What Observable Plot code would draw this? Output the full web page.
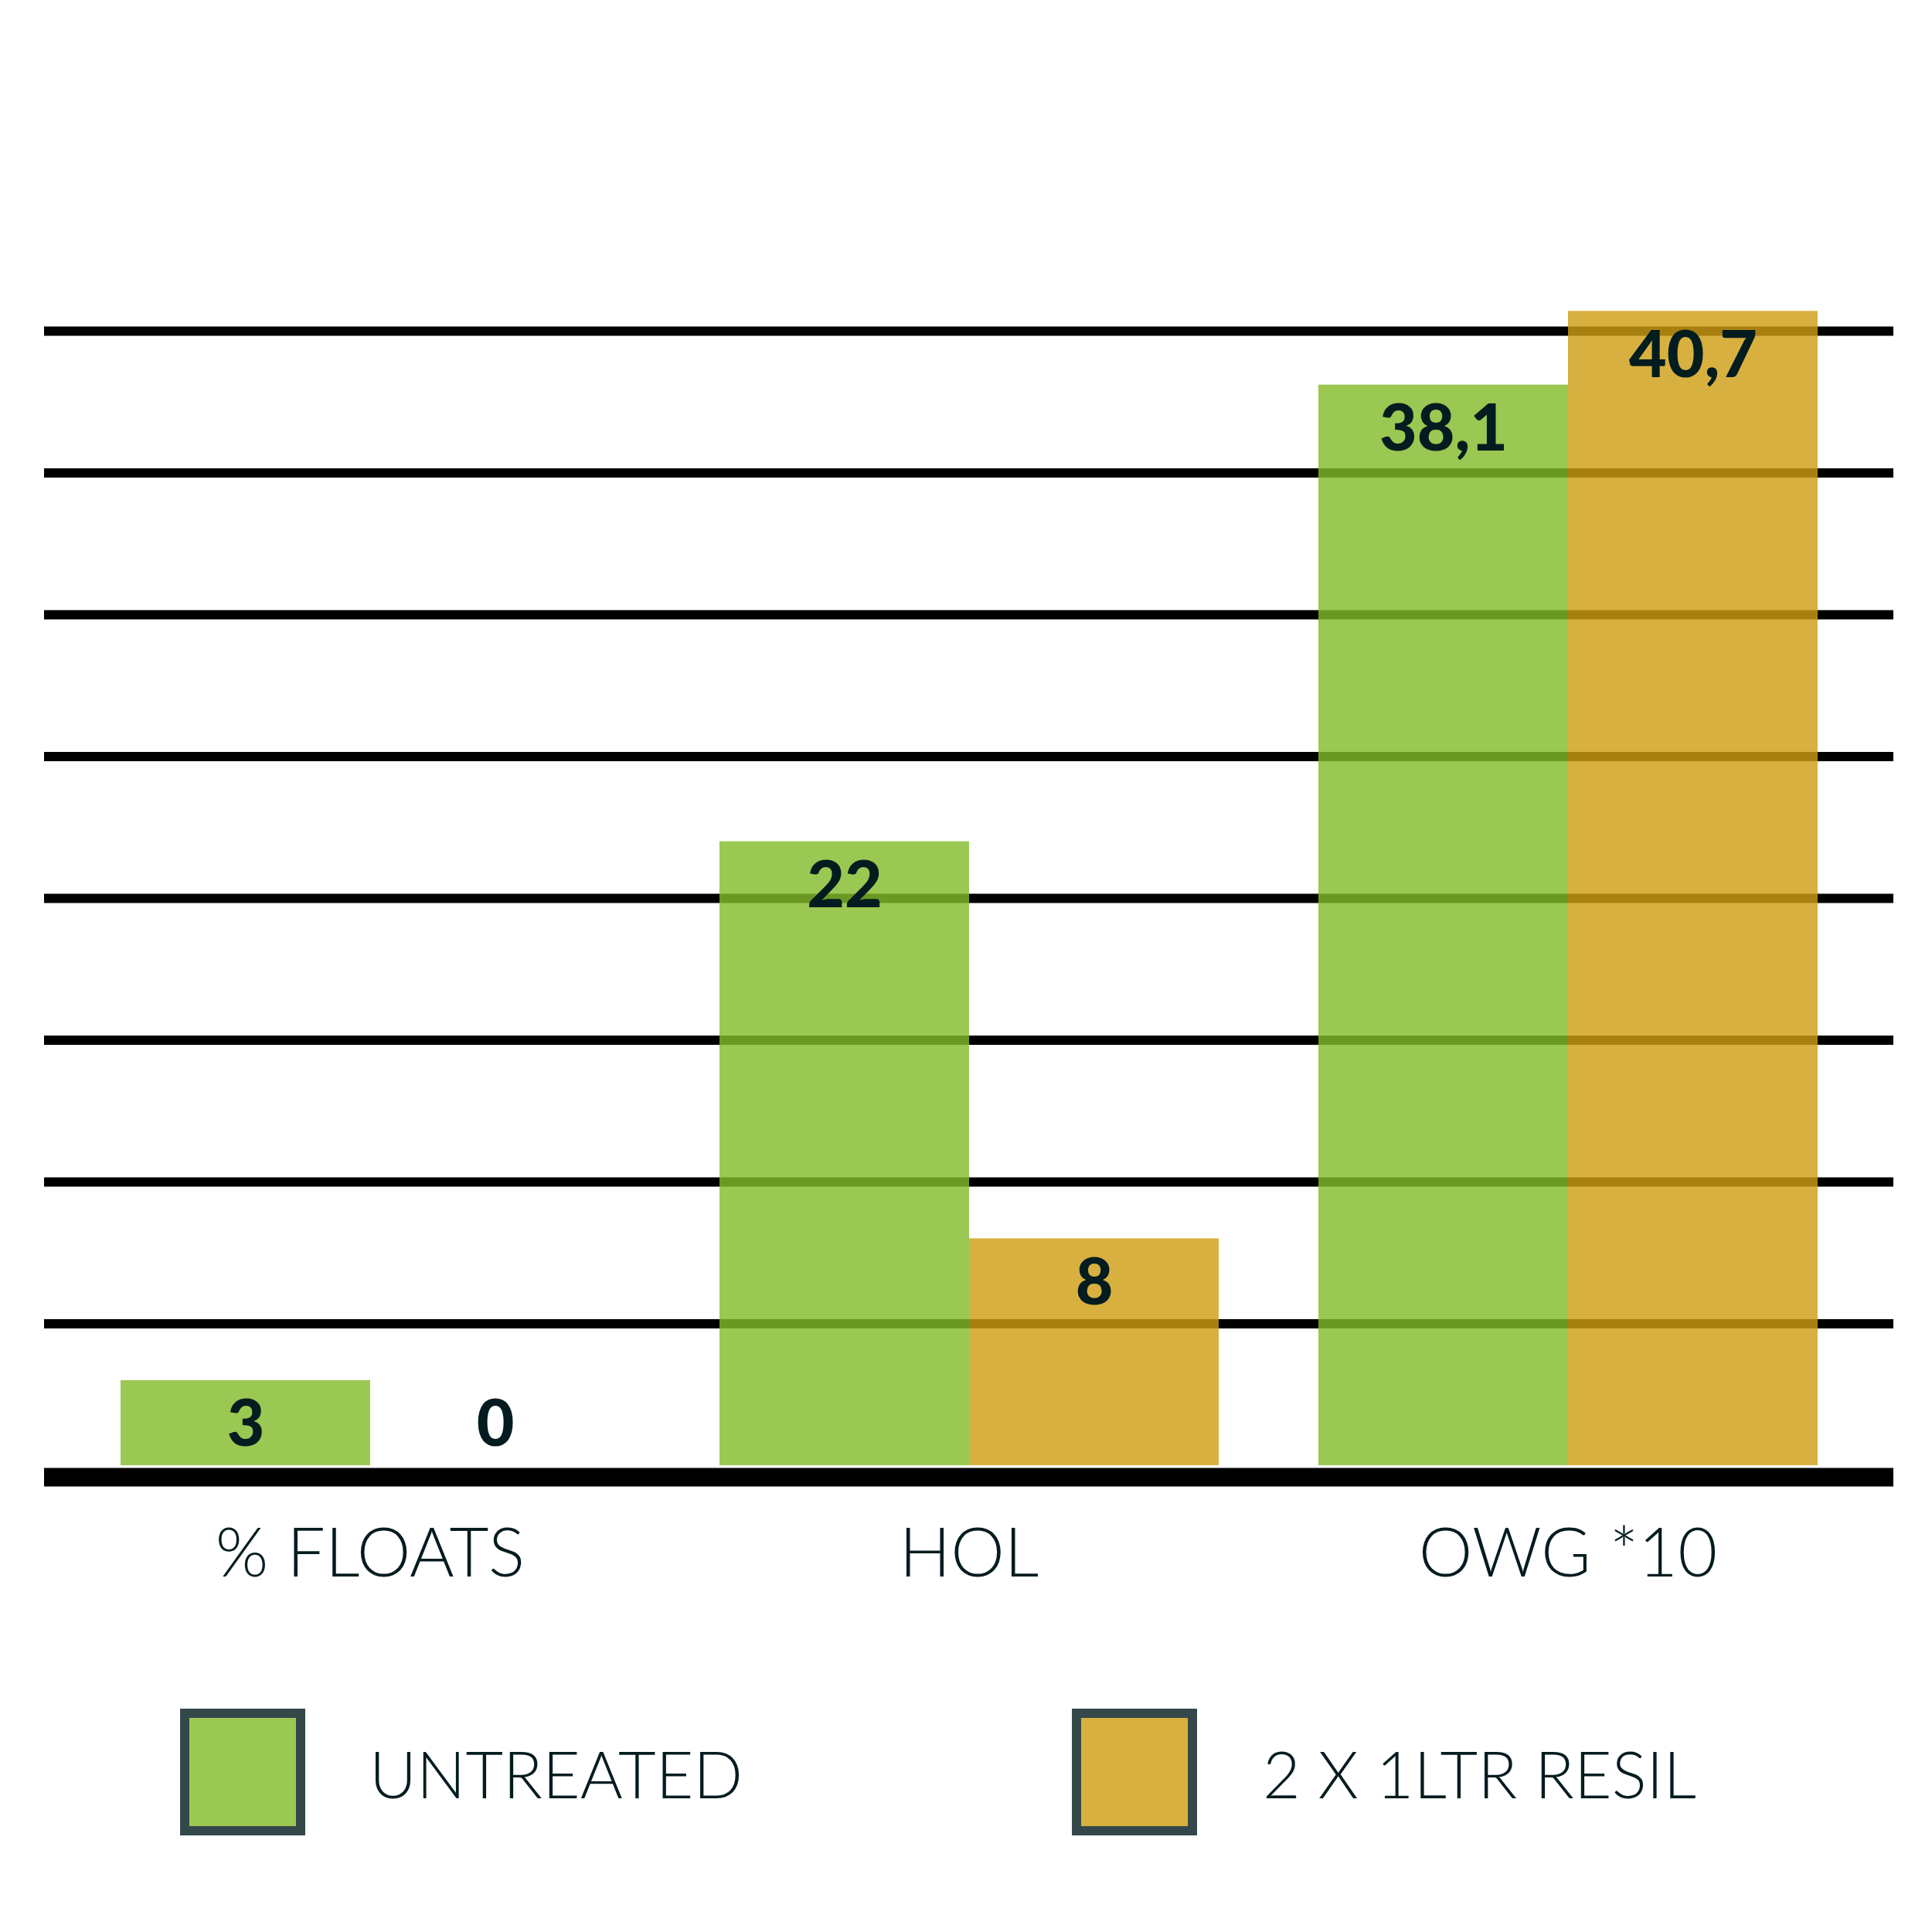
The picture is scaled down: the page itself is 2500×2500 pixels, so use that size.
<!DOCTYPE html>
<html>
<head>
<meta charset="utf-8">
<script src="https://cdn.jsdelivr.net/npm/d3@7"></script>
<script src="https://cdn.jsdelivr.net/npm/@observablehq/plot@0.6"></script>
<style>
  html, body { margin: 0; padding: 0; background: #ffffff; }
  #wrap { position: relative; width: 2500px; height: 2500px; background: #fff; }
  #grid, #chart { position: absolute; left: 0; top: 0; width: 2500px; height: 2100px; }
  #legend { position: absolute; left: 0; top: 2100px; width: 2500px; height: 400px; font-family: Lato, "Open Sans", sans-serif; }
  .sw { position: absolute; top: 111px; width: 138px; height: 140px; border: 12px solid #354849; box-sizing: content-box; }
  .lt { position: absolute; top: 140px; font-size: 84px; font-weight: 300; color: #031c1f; line-height: 110px; }
</style>
</head>
<body>
<div id="wrap">
  <div id="grid"></div>
  <div id="chart"></div>
  <div id="legend"></div>
</div>
<script>
const categories = ["% FLOATS", "HOL", "OWG *10"];
const series = ["UNTREATED", "2 X 1LTR RESIL"];
const untreated = [3, 22, 38.1];
const resil = [0, 8, 40.7];
const gridTicks = [5, 10, 15, 20, 25, 30, 35, 40];
const colors = ["#82bb2a", "#cf9e12"];

const rows = [];
categories.forEach((c, i) => {
  rows.push({category: c, series: series[0], value: untreated[i]});
  rows.push({category: c, series: series[1], value: resil[i]});
});
const fmt = v => String(v).replace(".", ",");

const common = {
  width: 2500,
  height: 2100,
  marginLeft: 57,
  marginRight: 50,
  marginTop: 244.5,
  marginBottom: 204,
  y: {domain: [0, 45], axis: null}
};

// Background layer: full-width grid lines and baseline
const grid = Plot.plot({
  ...common,
  style: {background: "transparent"},
  marks: [
    Plot.ruleY(gridTicks, {stroke: "#000", strokeWidth: 12}),
    Plot.ruleY([0], {stroke: "#000", strokeWidth: 24, dy: 15})
  ]
});
document.getElementById("grid").appendChild(grid);

// Foreground layer: grouped bars, value labels and category labels
const chart = Plot.plot({
  ...common,
  style: {fontFamily: "Lato, 'Open Sans', sans-serif", color: "#031c1f", background: "transparent"},
  fx: {domain: categories, paddingInner: 0.165, paddingOuter: 0.126, label: null, axis: null},
  x: {domain: series, padding: 0, axis: null},
  color: {domain: series, range: colors},
  marks: [
    Plot.barY(rows, {fx: "category", x: "series", y: "value", fill: "series", fillOpacity: 0.81}),
    Plot.text(rows, {fx: "category", x: "series", y: d => Math.max(d.value, 3), text: d => fmt(d.value), dy: 58,
      fontSize: 84, fontWeight: 900, fill: "#031c1f", fontFamily: "Lato, sans-serif"}),
    Plot.axisFx({anchor: "bottom", tickSize: 0, tickPadding: 81, label: null, fontSize: 88, fontWeight: 300, fill: "#031c1f"})
  ]
});
document.getElementById("chart").appendChild(chart);

// Legend
const legend = document.getElementById("legend");
const swLeft = [233, 1387];
const txLeft = [478, 1634];
series.forEach((s, i) => {
  const sw = document.createElement("div");
  sw.className = "sw";
  sw.style.left = swLeft[i] + "px";
  sw.style.background = d3.interpolateRgb("#ffffff", colors[i])(0.81);
  legend.appendChild(sw);
  const t = document.createElement("div");
  t.className = "lt";
  t.style.left = txLeft[i] + "px";
  t.textContent = s;
  legend.appendChild(t);
});
</script>
</body>
</html>
